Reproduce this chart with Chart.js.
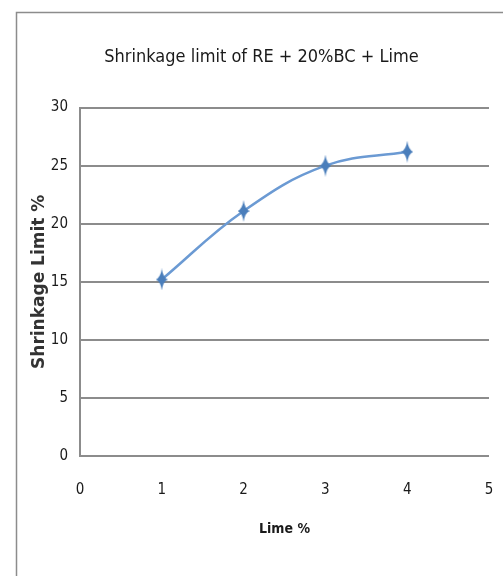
<!DOCTYPE html>
<html>
<head>
<meta charset="utf-8">
<script src="https://cdn.jsdelivr.net/npm/chart.js@4.4.1/dist/chart.umd.min.js"></script>
<style>
  html, body { margin: 0; padding: 0; background: #fff; overflow: hidden; }
  canvas { display: block; }
</style>
</head>
<body>
<canvas id="chart" width="503" height="576"></canvas>
<script>
// values
var limePercent = [1, 2, 3, 4];
var shrinkageLimit = [15.2, 21.1, 25.0, 26.2];
var xTickRange = [0, 5];
var yTickRange = [0, 30];

var narrow = "'Liberation Sans Narrow', 'DejaVu Sans Condensed', 'Liberation Sans', sans-serif";

// four pointed star marker like the excel one
function makeStar() {
    var w = 12, h = 22;
    var c = document.createElement('canvas');
    c.width = w; c.height = h;
    var g = c.getContext('2d');
    var cx = w / 2, cy = h / 2;
    g.fillStyle = '#4a7ebb';
    g.beginPath();
    g.moveTo(cx, 0);
    g.quadraticCurveTo(cx + 1.2, cy - 2, w, cy);
    g.quadraticCurveTo(cx + 1.2, cy + 2, cx, h);
    g.quadraticCurveTo(cx - 1.2, cy + 2, 0, cy);
    g.quadraticCurveTo(cx - 1.2, cy - 2, cx, 0);
    g.closePath();
    g.fill();
    return c;
}

var frame = {
    id: 'frame',
    beforeDraw: function (chart) {
        var ctx = chart.ctx;
        ctx.save();
        ctx.fillStyle = '#fff';
        ctx.fillRect(0, 0, chart.width, chart.height);
        ctx.strokeStyle = '#8c8c8c';
        ctx.lineWidth = 1.5;
        ctx.beginPath();
        ctx.moveTo(16.5, chart.height);
        ctx.lineTo(16.5, 12.5);
        ctx.lineTo(chart.width, 12.5);
        ctx.stroke();
        ctx.restore();
    }
};

var points = limePercent.map(function (x, i) { return { x: x, y: shrinkageLimit[i] }; });
var star = makeStar();

new Chart(document.getElementById('chart').getContext('2d'), {
    type: 'scatter',
    data: {
        datasets: [{
            data: points,
            showLine: true,
            tension: 0.4,
            borderColor: '#6b9ad3',
            borderWidth: 2.5,
            pointStyle: star,
            pointRadius: 6,
            pointHoverRadius: 6
        }]
    },
    options: {
        responsive: false,
        animation: false,
        layout: { padding: { left: 20, top: 0, right: 0, bottom: 0 } },
        plugins: {
            legend: { display: false },
            tooltip: { enabled: false },
            title: {
                display: true,
                text: 'Shrinkage limit of RE + 20%BC + Lime',
                color: '#1a1a1a',
                font: { family: narrow, size: 18, weight: 'normal' },
                padding: { top: 47, bottom: 39 }
            }
        },
        scales: {
            x: {
                type: 'linear',
                min: xTickRange[0],
                max: xTickRange[1],
                ticks: {
                    stepSize: 1,
                    color: '#1a1a1a',
                    padding: 25,
                    font: { family: narrow, size: 15 }
                },
                grid: { display: false, drawTicks: false },
                border: { display: false },
                title: {
                    display: true,
                    text: 'Lime %',
                    color: '#1a1a1a',
                    font: { family: narrow, size: 14, weight: 'bold' },
                    padding: { top: 0, bottom: 38 }
                },
                afterFit: function (scale) {
                    scale.height = 120;
                    scale.paddingLeft = 0;
                    scale.paddingRight = 14;
                }
            },
            y: {
                min: yTickRange[0],
                max: yTickRange[1],
                ticks: {
                    stepSize: 5,
                    color: '#1a1a1a',
                    padding: 12,
                    font: { family: narrow, size: 15 }
                },
                grid: { color: '#8c8c8c', lineWidth: 2, drawTicks: false },
                border: { color: '#8c8c8c', width: 2 },
                title: {
                    display: true,
                    text: 'Shrinkage Limit %',
                    color: '#333',
                    font: { family: "'DejaVu Sans', sans-serif", size: 17, weight: 'bold' },
                    padding: { top: 9, bottom: 0 }
                },
                afterFit: function (scale) { scale.width = 60; }
            }
        }
    },
    plugins: [frame]
});
</script>
</body>
</html>
